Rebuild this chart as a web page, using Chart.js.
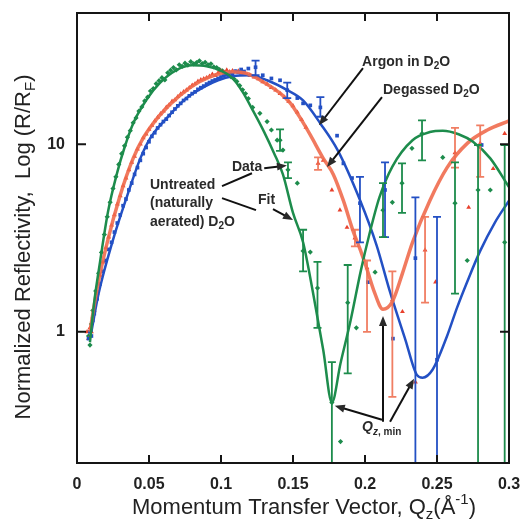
<!DOCTYPE html>
<html>
<head>
<meta charset="utf-8">
<script src="https://cdn.jsdelivr.net/npm/chart.js@4.4.0/dist/chart.umd.min.js"></script>
<style>
  html, body { margin: 0; padding: 0; background: #fff; }
  #wrap { width: 521px; height: 523px; }
</style>
</head>
<body>
<div id="wrap"><canvas id="refl" width="521" height="523"></canvas></div>
<script>
// --- Untreated (naturally aerated) D2O : green ---
const gQ = [0.008,0.009,0.010,0.011,0.013,0.015,0.017,0.019,0.021,0.023,0.025,0.027,0.029,0.031,0.033,0.035,0.037,0.039,0.041,0.043,0.045,0.047,0.049,0.051,0.053,0.055,0.057,0.059,0.061,0.063,0.065,0.067,0.069,0.071,0.073,0.075,0.077,0.079,0.081,0.083,0.085,0.087,0.089,0.091,0.093,0.095,0.097,0.099,0.101,0.103,0.105,0.107,0.109,0.111,0.113,0.115,0.117,0.119,0.122,0.127,0.132,0.135,0.139,0.143,0.153,0.162,0.183,0.194,0.207,0.219,0.2326,0.254,0.271,0.287];
const gR = [0.95,0.85,1.1,1.3,1.65,2.05,2.65,3.3,4.1,4.9,5.8,6.7,7.8,8.9,9.8,10.9,11.8,13.0,13.8,15.0,15.8,17.0,17.8,19.2,19.8,21.0,21.8,22.6,22.0,24.0,24.8,25.6,24.9,26.5,26.0,27.0,26.4,27.5,26.8,27.2,27.8,26.9,27.3,26.5,26.8,25.8,25.6,25.0,24.6,23.8,23.6,22.8,22.3,21.6,20.5,19.5,18.6,17.5,15.7,14.6,13.2,11.9,10.5,9.3,6.2,2.66,0.26,1.05,2.08,4.9,9.5,8.5,2.4,5.7];
const gBarQ  = [0.141,0.1465,0.157,0.167,0.177,0.188,0.2125,0.2257,0.2396,0.2625,0.2785,0.297];
const gBarR  = [10.5,7.3,2.7,1.71,0.42,1.43,4.45,6.2,11.4,4.85,5.7,3.0];
const gBarLo = [9.2,6.6,2.1,1.05,0.05,0.6,3.2,4.3,8.2,1.6,0.05,0.05];
const gBarHi = [12.0,8.0,3.5,2.36,0.69,2.27,6.2,7.9,13.4,8.0,9.9,9.9];
const gFitQ = [0.009,0.012,0.016,0.0215,0.028,0.033,0.039,0.0486,0.0576,0.069,0.08,0.09,0.1,0.108,0.115,0.122,0.13,0.137,0.143,0.15,0.157,0.164,0.171,0.177,0.183,0.19,0.197,0.203,0.21,0.219,0.233,0.245,0.254,0.265,0.275,0.287,0.3];
const gFitR = [0.88,1.45,2.36,4.35,7.1,9.6,12.9,17.4,21.2,24.8,26.3,26.0,24.6,22.5,19.0,15.2,11.6,8.9,6.9,4.3,3.0,1.6,0.8,0.42,0.68,1.15,2.1,3.3,5.2,7.6,10.5,11.6,11.8,11.3,10.3,8.4,5.9];

// --- Degassed D2O : red ---
const rQ = [0.007,0.008,0.009,0.010,0.011,0.012,0.014,0.016,0.018,0.020,0.022,0.024,0.026,0.028,0.030,0.032,0.034,0.036,0.038,0.040,0.042,0.044,0.046,0.048,0.050,0.052,0.054,0.056,0.058,0.060,0.062,0.064,0.066,0.068,0.070,0.072,0.074,0.076,0.078,0.080,0.082,0.084,0.086,0.088,0.090,0.092,0.094,0.096,0.098,0.100,0.102,0.104,0.106,0.108,0.110,0.112,0.114,0.116,0.118,0.120,0.123,0.126,0.129,0.132,0.135,0.138,0.141,0.144,0.147,0.150,0.153,0.156,0.159,0.171,0.177,0.1826,0.1875,0.226,0.235,0.249,0.272,0.289,0.297];
const rR = [1.0,0.92,1.05,1.0,1.2,1.3,1.6,2.0,2.35,2.8,3.2,3.7,4.2,4.8,5.3,6.0,6.6,7.3,8.0,8.6,9.4,10.0,10.8,11.3,12.0,12.6,13.3,13.9,14.5,15.0,15.7,16.2,16.9,17.2,17.9,18.5,19.0,19.4,20.0,20.6,21.0,21.6,22.0,22.3,22.6,23.0,23.6,23.2,24.0,24.5,24.2,24.8,24.3,24.6,24.2,24.5,23.9,24.0,23.5,23.3,22.8,22.3,21.5,20.9,20.0,19.4,18.6,17.8,16.9,16.0,14.8,13.5,12.3,8.2,5.7,4.45,3.6,1.28,0.54,1.84,4.6,7.4,11.4];
const rBarQ  = [0.1674,0.193,0.2014,0.219,0.2417,0.2625,0.28];
const rBarR  = [7.9,3.16,2.19,1.48,2.73,9.0,10.1];
const rBarLo = [7.3,2.85,1.0,0.45,1.43,7.5,6.7];
const rBarHi = [8.5,3.5,2.4,2.1,4.1,12.2,12.6];
const rFitQ = [0.009,0.014,0.021,0.03,0.039,0.046,0.0576,0.0715,0.085,0.097,0.108,0.118,0.127,0.141,0.148,0.155,0.162,0.171,0.178,0.185,0.192,0.197,0.201,0.206,0.2125,0.219,0.226,0.233,0.245,0.257,0.271,0.285,0.3];
const rFitR = [1.0,1.71,3.0,5.35,8.4,10.8,14.3,18.2,21.5,23.5,24.3,23.8,22.0,18.7,16.6,13.8,11.2,8.4,6.9,5.0,3.4,2.7,2.2,1.67,1.32,1.45,2.05,3.0,5.0,7.5,10.1,11.9,13.3];

// --- Argon in D2O : blue ---
const bQ = [0.008,0.009,0.010,0.011,0.012,0.014,0.016,0.018,0.020,0.022,0.024,0.026,0.028,0.030,0.032,0.034,0.036,0.038,0.040,0.042,0.044,0.046,0.048,0.050,0.052,0.054,0.056,0.058,0.060,0.062,0.064,0.066,0.068,0.070,0.072,0.074,0.076,0.078,0.080,0.082,0.084,0.086,0.088,0.090,0.092,0.094,0.096,0.098,0.100,0.102,0.104,0.106,0.108,0.110,0.112,0.114,0.116,0.119,0.129,0.135,0.141,0.153,0.157,0.162,0.1806,0.185,0.191,0.202,0.2194,0.281];
const bR = [0.92,1.0,0.95,1.15,1.25,1.5,1.8,2.1,2.4,2.75,3.0,3.4,3.8,4.2,4.7,5.1,5.7,6.2,6.9,7.5,8.2,8.9,9.6,10.3,11.0,11.5,12.2,12.7,13.2,13.6,14.2,14.8,15.4,16.0,16.5,17.1,17.5,18.1,18.6,19.0,19.6,20.0,20.4,20.9,21.3,21.7,22.0,22.4,22.8,23.3,23.5,24.0,23.6,24.5,24.2,25.0,24.4,25.3,23.3,22.4,21.9,17.6,16.5,16.1,11.1,7.9,6.6,1.84,0.92,9.9];
const bBarQ  = [0.124,0.146,0.169,0.1965,0.2139,0.235,0.25];
const bBarR  = [25.7,19.4,15.7,4.85,5.7,2.47,0.71];
const bBarLo = [23.3,17.6,14.0,3.0,3.2,0.05,0.05];
const bBarHi = [27.9,21.3,17.8,6.7,8.0,5.2,4.1];
const bFitQ = [0.010,0.015,0.0245,0.035,0.044,0.051,0.0625,0.076,0.09,0.098,0.108,0.12,0.132,0.146,0.157,0.169,0.181,0.1965,0.208,0.217,0.228,0.236,0.24,0.247,0.257,0.264,0.271,0.28,0.29,0.3];
const bFitR = [1.0,1.6,3.0,5.35,8.4,10.8,13.8,17.6,20.5,21.9,23.0,23.3,21.9,19.4,17.1,12.9,9.3,5.04,2.9,1.67,0.91,0.59,0.57,0.63,0.95,1.35,1.85,2.7,3.8,5.0];

const xTicks = [0, 0.05, 0.1, 0.15, 0.2, 0.25, 0.3];
const yTicks = [1, 10];

const FONT = '"Liberation Sans", Arial, sans-serif';
const GREEN = '#1d8c4c', RED = '#e8402c', SALMON = 'rgba(238,112,82,0.9)', BLUE = '#2350c4';

const pts = (qs, rs) => qs.map((q, i) => ({ x: q, y: rs[i] }));

function dataSet(color, style, radius, q, r, bq, br, lo, hi, errColor) {
  return {
    data: pts(q.concat(bq), r.concat(br)),
    showLine: false, pointStyle: style, pointRadius: radius,
    backgroundColor: color, borderColor: color, borderWidth: 0,
    errLo: q.map(() => null).concat(lo),
    errHi: q.map(() => null).concat(hi),
    errColor: errColor, order: 2
  };
}
function fitSet(color, width, q, r) {
  return {
    data: pts(q, r), showLine: true, pointRadius: 0, borderColor: color,
    borderWidth: width, cubicInterpolationMode: 'monotone', fill: false, order: 0
  };
}

// vertical error bars with caps
const errorBars = {
  id: 'errorBars',
  afterDatasetsDraw(chart) {
    const { ctx, chartArea: a, scales: { x, y } } = chart;
    ctx.save();
    ctx.beginPath(); ctx.rect(a.left, a.top, a.right - a.left, a.bottom - a.top); ctx.clip();
    chart.data.datasets.forEach(ds => {
      if (!ds.errLo) return;
      ctx.strokeStyle = ds.errColor; ctx.lineWidth = 1.8;
      ds.data.forEach((p, j) => {
        if (ds.errLo[j] == null) return;
        const px = x.getPixelForValue(p.x);
        const y1 = y.getPixelForValue(ds.errLo[j]);
        const y2 = y.getPixelForValue(ds.errHi[j]);
        ctx.beginPath();
        ctx.moveTo(px, y1); ctx.lineTo(px, y2);
        ctx.moveTo(px - 4, y1); ctx.lineTo(px + 4, y1);
        ctx.moveTo(px - 4, y2); ctx.lineTo(px + 4, y2);
        ctx.stroke();
      });
    });
    ctx.restore();
  }
};

function drawRich(ctx, parts, x, y, size, weight, align) {
  const fontFor = p => (p.s || '') + ' ' + weight + ' ' + (p.k ? Math.round(size * 0.7) : size) + 'px ' + FONT;
  let w = 0;
  parts.forEach(p => { ctx.font = fontFor(p); w += ctx.measureText(p.t).width; });
  let cx = align === 'center' ? x - w / 2 : x;
  ctx.textAlign = 'left'; ctx.textBaseline = 'middle';
  parts.forEach(p => {
    ctx.font = fontFor(p);
    const dy = p.k === 'sub' ? size * 0.32 : p.k === 'sup' ? -size * 0.35 : 0;
    ctx.fillText(p.t, cx, y + dy);
    cx += ctx.measureText(p.t).width;
  });
}

function arrow(ctx, x1, y1, x2, y2) {
  const ang = Math.atan2(y2 - y1, x2 - x1), L = 10, W = 4;
  ctx.beginPath(); ctx.moveTo(x1, y1);
  ctx.lineTo(x2 - L * 0.8 * Math.cos(ang), y2 - L * 0.8 * Math.sin(ang)); ctx.stroke();
  ctx.beginPath();
  ctx.moveTo(x2, y2);
  ctx.lineTo(x2 - L * Math.cos(ang) + W * Math.sin(ang), y2 - L * Math.sin(ang) - W * Math.cos(ang));
  ctx.lineTo(x2 - L * Math.cos(ang) - W * Math.sin(ang), y2 - L * Math.sin(ang) + W * Math.cos(ang));
  ctx.closePath(); ctx.fill();
}

// frame, inward ticks, axis titles and annotations
const decor = {
  id: 'decor',
  afterDraw(chart) {
    const { ctx, chartArea: a, scales: { x, y } } = chart;
    const P = (q, r) => [x.getPixelForValue(q), y.getPixelForValue(r)];
    ctx.save();
    ctx.strokeStyle = '#151515'; ctx.lineWidth = 2;
    ctx.strokeRect(a.left, a.top, a.right - a.left, a.bottom - a.top);
    ctx.beginPath();
    xTicks.slice(1, -1).forEach(v => {
      const px = x.getPixelForValue(v);
      ctx.moveTo(px, a.bottom); ctx.lineTo(px, a.bottom - 8);
      ctx.moveTo(px, a.top); ctx.lineTo(px, a.top + 8);
    });
    yTicks.forEach(v => {
      const py = y.getPixelForValue(v);
      ctx.moveTo(a.left, py); ctx.lineTo(a.left + 9, py);
      ctx.moveTo(a.right, py); ctx.lineTo(a.right - 9, py);
    });
    ctx.stroke();

    // axis titles
    ctx.fillStyle = '#222';
    drawRich(ctx, [{ t: 'Momentum Transfer Vector, Q' }, { t: 'z', k: 'sub' }, { t: '(Å' }, { t: '-1', k: 'sup' }, { t: ')' }],
      304, 508, 22, 'normal', 'center');
    ctx.save();
    ctx.translate(24, 247); ctx.rotate(-Math.PI / 2);
    drawRich(ctx, [{ t: 'Normalized Reflectivity,  Log (R/R' }, { t: 'F', k: 'sub' }, { t: ')' }], 0, 0, 22, 'normal', 'center');
    ctx.restore();

    // annotations
    ctx.fillStyle = '#2a2a2a'; ctx.strokeStyle = '#111'; ctx.lineWidth = 2;
    const lab = (parts, q, r) => { const [px, py] = P(q, r); drawRich(ctx, parts, px, py, 14, 'bold', 'left'); };
    const arr = (q1, r1, q2, r2) => { const a1 = P(q1, r1), a2 = P(q2, r2); arrow(ctx, a1[0], a1[1], a2[0], a2[1]); };
    const seg = (q1, r1, q2, r2) => { const a1 = P(q1, r1), a2 = P(q2, r2); ctx.beginPath(); ctx.moveTo(a1[0], a1[1]); ctx.lineTo(a2[0], a2[1]); ctx.stroke(); };

    lab([{ t: 'Argon in D' }, { t: '2', k: 'sub' }, { t: 'O' }], 0.198, 27.4);
    arr(0.1986, 25.4, 0.168, 12.6);
    lab([{ t: 'Degassed D' }, { t: '2', k: 'sub' }, { t: 'O' }], 0.2125, 19.4);
    arr(0.2118, 17.8, 0.1736, 7.55);
    lab([{ t: 'Data' }], 0.1076, 7.55);
    arr(0.130, 7.45, 0.1458, 7.7);
    lab([{ t: 'Fit' }], 0.1257, 5.04);
    arr(0.1361, 4.51, 0.150, 3.94);
    lab([{ t: 'Untreated' }], 0.0507, 6.06);
    lab([{ t: '(naturally' }], 0.0507, 4.85);
    lab([{ t: 'aerated) D' }, { t: '2', k: 'sub' }, { t: 'O' }], 0.0507, 3.85);
    seg(0.1007, 5.98, 0.1215, 7.0);
    seg(0.1007, 5.16, 0.1243, 4.45);

    lab([{ t: 'Q', s: 'italic' }, { t: 'z', k: 'sub', s: 'italic' }, { t: ', min', k: 'sub' }], 0.198, 0.309);
    arr(0.2118, 0.34, 0.179, 0.404);
    arr(0.2125, 0.332, 0.2125, 1.216);
    arr(0.2174, 0.332, 0.234, 0.562);
    ctx.restore();
  }
};

new Chart(document.getElementById('refl'), {
  type: 'scatter',
  data: {
    datasets: [
      fitSet(GREEN, 2.5, gFitQ, gFitR),
      fitSet('rgba(240,108,78,0.9)', 3.5, rFitQ, rFitR),
      fitSet(BLUE, 2.5, bFitQ, bFitR),
      dataSet(BLUE, 'rect', 2.6, bQ, bR, bBarQ, bBarR, bBarLo, bBarHi, BLUE),
      dataSet(RED, 'triangle', 2.8, rQ, rR, rBarQ, rBarR, rBarLo, rBarHi, SALMON),
      dataSet(GREEN, 'rectRot', 2.6, gQ, gR, gBarQ, gBarR, gBarLo, gBarHi, GREEN)
    ]
  },
  options: {
    responsive: false,
    animation: false,
    devicePixelRatio: 1,
    events: [],
    layout: { padding: { left: 0, right: 12, top: 13, bottom: 0 } },
    plugins: { legend: { display: false }, tooltip: { enabled: false } },
    scales: {
      x: {
        type: 'linear', min: 0, max: 0.3,
        grid: { display: false, drawTicks: false }, border: { display: false },
        afterBuildTicks: s => { s.ticks = xTicks.map(v => ({ value: v })); },
        afterFit: s => { s.height = 60; s.paddingLeft = 0; s.paddingRight = 0; },
        ticks: {
          padding: 12, color: '#222', font: { family: FONT, size: 16, weight: 'bold' },
          callback: v => String(+v.toFixed(2))
        }
      },
      y: {
        type: 'logarithmic', min: 0.2, max: 50,
        grid: { display: false, drawTicks: false }, border: { display: false },
        afterBuildTicks: s => { s.ticks = yTicks.map(v => ({ value: v })); },
        afterFit: s => { s.width = 77; s.paddingTop = 0; s.paddingBottom = 0; },
        ticks: {
          padding: 12, color: '#222', font: { family: FONT, size: 16, weight: 'bold' },
          callback: v => String(v)
        }
      }
    }
  },
  plugins: [errorBars, decor]
});
</script>
</body>
</html>
